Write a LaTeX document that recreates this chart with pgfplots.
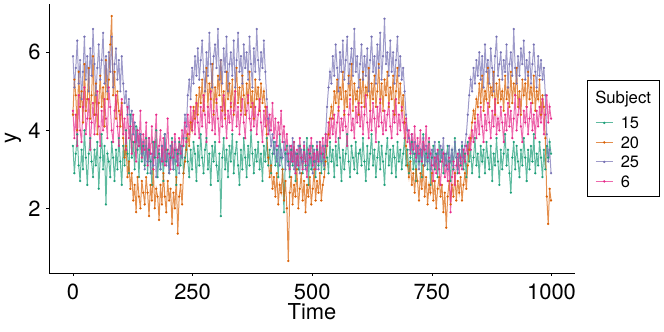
\documentclass[border=0pt]{standalone}
\usepackage{fontspec}
\setmainfont{TeX Gyre Heros}
\usepackage{pgfplots}
\usepackage{pgfplotstable}
\pgfplotsset{compat=1.18}
\definecolor{cA}{HTML}{1B9E77}
\definecolor{cB}{HTML}{D95F02}
\definecolor{cC}{HTML}{7570B3}
\definecolor{cD}{HTML}{E7298A}

\pgfplotstableread{
t s15 s20 s25 s6
0 3.6 4.4 5.9 4.5
3 2.9 5.3 5.1 3.8
6 3.4 4.9 5.6 4.4
9 3.9 4.0 6.3 3.6
12 3.1 5.5 5.2 4.9
15 2.7 4.6 5.8 4.0
18 3.5 5.0 4.8 3.7
21 3.0 4.2 5.5 4.6
24 4.0 5.7 6.4 5.1
27 3.3 4.5 5.3 3.9
30 2.6 4.8 5.9 4.3
33 3.4 5.6 5.0 4.8
36 3.8 4.3 6.1 3.5
39 3.2 4.9 5.4 4.2
42 2.8 5.9 6.6 4.7
45 3.5 4.4 5.7 3.9
48 3.1 5.2 4.9 4.4
51 3.7 3.9 5.6 5.0
54 2.5 4.7 6.2 4.1
57 3.3 5.4 5.3 3.6
60 3.9 4.6 5.8 4.5
63 3.0 5.1 6.5 4.0
66 3.6 4.1 5.2 4.8
69 2.1 5.8 5.9 4.3
72 3.4 4.8 5.0 3.8
75 3.2 5.3 6.0 5.1
78 2.8 6.2 5.5 4.6
81 3.7 6.93 6.4 4.0
84 3.3 4.9 5.1 3.7
87 2.7 5.5 5.7 4.5
90 3.5 4.3 6.1 4.9
93 3.0 5.0 5.3 4.1
96 3.8 4.5 5.8 3.6
99 3.2 4.1 5.0 4.4
102 2.6 4.7 5.9 4.8
105 3.6 3.8 5.2 3.9
108 3.1 3.3 4.7 4.3
111 4.0 3.6 5.0 3.5
114 3.4 2.8 4.4 4.6
117 2.9 3.2 4.8 3.8
120 4.4 2.5 4.1 4.1
123 3.3 2.9 4.5 3.4
126 3.7 2.2 3.9 4.4
129 3.0 2.6 4.2 3.7
132 4.1 1.9 3.7 3.2
135 3.5 2.8 4.0 4.0
138 2.8 2.3 3.6 3.6
141 3.9 2.0 3.9 4.5
144 3.2 2.7 3.4 3.3
147 3.6 2.4 3.7 3.9
150 3.1 2.1 3.0 3.5
153 3.8 2.8 3.6 4.2
156 2.9 2.4 3.2 3.1
159 3.5 1.8 3.8 3.8
162 3.2 2.6 2.9 3.4
165 2.6 2.2 3.4 4.1
168 3.7 3.0 3.1 3.0
171 3.3 2.0 3.7 3.7
174 4.0 2.5 2.8 4.4
177 2.8 2.3 3.3 3.3
180 3.4 1.7 3.5 3.6
183 3.0 2.6 3.0 4.0
186 3.6 2.1 3.6 3.2
189 2.7 2.9 3.2 3.8
192 3.9 2.3 3.9 3.1
195 3.2 1.9 3.1 3.5
198 3.5 2.7 3.4 4.3
201 2.9 2.2 2.9 3.4
204 3.3 2.5 3.6 3.0
207 3.8 1.6 3.3 3.7
210 3.0 2.4 3.0 3.3
213 3.5 2.0 3.7 3.9
216 2.6 2.8 3.2 3.5
219 3.4 1.35 3.5 3.1
222 3.7 2.3 2.9 3.8
225 3.1 2.6 3.6 3.4
228 3.6 2.1 3.3 4.0
231 2.9 2.9 3.8 3.6
234 3.3 3.2 4.4 4.2
237 3.8 3.5 4.1 3.7
240 3.2 3.9 4.9 4.4
243 2.8 3.6 5.3 3.9
246 3.5 4.2 4.8 4.6
249 3.0 4.0 5.6 4.0
252 3.7 4.6 5.2 4.5
255 3.4 4.3 5.9 3.9
258 2.7 4.9 5.4 4.7
261 3.6 4.4 6.1 4.2
264 3.1 5.1 5.3 3.8
267 3.9 4.7 5.8 4.6
270 3.3 5.3 6.3 4.1
273 2.9 4.5 5.5 4.9
276 3.5 5.0 5.0 4.4
279 3.8 5.6 6.0 3.7
282 3.0 4.6 5.4 4.6
285 3.4 5.2 6.5 4.2
288 2.6 4.8 5.7 5.0
291 3.6 5.7 5.1 4.0
294 3.2 4.4 5.9 4.5
297 3.7 5.1 6.2 3.9
300 3.1 4.7 5.6 4.8
303 2.7 5.4 6.6 4.3
306 3.4 4.9 5.3 3.7
309 1.8 5.8 5.8 4.6
312 3.3 4.5 5.2 4.1
315 3.8 5.0 6.1 4.9
318 3.0 4.3 5.5 4.4
321 3.5 5.5 6.4 3.8
324 2.8 4.8 5.0 4.5
327 3.6 5.2 5.7 4.2
330 3.2 4.6 6.0 4.7
333 3.9 5.3 5.4 4.0
336 2.9 4.4 6.3 4.5
339 3.4 5.0 5.1 5.0
342 3.7 5.6 5.8 4.1
345 3.1 4.7 6.5 4.6
348 2.6 5.1 5.5 3.9
351 3.5 4.5 5.9 4.4
354 3.0 5.4 5.2 4.8
357 3.8 4.9 6.2 4.2
360 3.3 4.4 5.6 3.8
363 2.8 5.2 6.0 4.5
366 3.6 4.7 5.3 4.9
369 3.1 5.5 6.4 4.3
372 4.0 4.6 5.7 4.0
375 3.4 5.0 5.1 4.7
378 2.9 4.3 6.1 4.1
381 3.5 5.3 5.5 4.6
384 3.2 4.8 6.6 3.9
387 3.7 5.1 5.8 4.4
390 3.0 4.5 5.3 4.8
393 3.4 5.2 6.0 4.2
396 2.7 4.7 5.6 3.7
399 3.6 5.0 6.3 4.5
402 3.2 4.6 5.5 4.1
405 3.8 3.9 4.8 4.6
408 3.1 3.3 4.3 3.9
411 3.5 2.8 4.0 4.4
414 2.9 3.1 3.6 4.0
417 3.4 2.5 3.9 4.7
420 3.7 2.8 3.4 3.8
423 3.1 2.3 3.7 4.3
426 3.5 2.9 3.2 3.6
429 2.8 2.1 3.6 4.2
432 3.9 2.6 3.1 3.9
435 3.3 2.4 3.5 4.5
438 3.0 3.0 3.3 3.7
441 1.9 2.2 3.7 4.1
444 3.4 2.7 3.0 3.5
447 3.6 2.0 3.4 3.9
450 3.2 0.65 3.1 3.4
453 2.8 2.4 3.6 3.0
456 3.5 2.8 3.2 3.6
459 3.1 2.1 3.8 3.2
462 3.7 2.6 3.0 3.7
465 2.7 2.3 3.4 2.9
468 3.4 3.0 3.1 3.5
471 3.0 2.0 3.6 3.1
474 3.6 2.5 2.9 3.8
477 3.3 2.9 3.5 3.3
480 2.9 2.2 3.2 3.0
483 3.5 2.7 3.7 3.6
486 3.1 1.9 3.0 3.2
489 3.8 2.6 3.4 2.8
492 2.6 2.3 3.1 3.5
495 3.4 2.8 3.6 3.3
498 3.0 2.1 3.3 3.8
501 3.6 2.5 2.9 3.1
504 3.2 3.0 3.5 3.4
507 2.8 2.2 3.2 3.0
510 3.5 2.7 3.7 3.6
513 3.1 2.4 3.0 3.2
516 3.7 2.9 3.4 3.7
519 2.9 2.2 3.2 3.4
522 3.4 2.6 3.6 3.8
525 3.0 2.8 3.1 3.3
528 3.6 3.2 3.9 3.9
531 3.3 3.6 4.6 3.6
534 2.9 3.9 5.1 4.2
537 3.7 4.3 5.5 3.8
540 3.2 4.6 5.2 4.3
543 3.5 4.3 5.9 3.9
546 2.8 5.0 5.4 4.4
549 3.6 4.7 6.2 3.7
552 3.1 5.3 5.6 4.2
555 3.8 4.5 5.0 4.6
558 3.3 5.1 6.0 3.8
561 2.7 4.8 5.5 4.3
564 3.5 5.5 6.3 4.0
567 3.0 4.4 5.3 4.5
570 3.4 5.0 5.8 4.1
573 3.9 4.6 6.4 3.6
576 3.2 5.4 5.2 4.4
579 2.8 4.9 5.7 4.8
582 3.6 5.7 6.1 4.0
585 3.3 4.5 5.4 4.3
588 3.0 5.2 6.6 3.8
591 3.7 4.8 5.5 4.6
594 2.9 5.0 5.9 4.2
597 3.4 4.4 5.1 4.7
600 3.5 5.3 5.7 4.1
603 3.1 4.7 6.2 4.6
606 3.8 5.5 5.3 3.9
609 3.2 4.6 5.9 4.4
612 2.7 5.1 5.4 4.9
615 3.6 4.9 6.1 4.2
618 3.0 5.6 5.0 3.8
621 3.4 4.5 5.8 4.5
624 3.9 5.2 6.4 4.0
627 3.1 4.8 5.5 4.7
630 3.5 5.4 5.9 4.3
633 2.8 4.6 5.2 3.7
636 3.3 5.0 6.2 4.6
639 3.7 5.7 5.6 4.1
642 3.0 4.7 6.5 4.8
645 3.6 5.2 5.3 4.2
648 3.2 4.5 5.9 3.9
651 2.6 5.3 6.86 4.5
654 3.4 4.9 5.7 4.0
657 3.8 5.5 6.0 4.4
660 3.1 4.6 5.4 4.7
663 3.5 5.1 6.3 4.1
666 2.9 4.8 5.5 3.8
669 3.6 5.4 6.0 4.5
672 3.3 4.4 5.2 4.2
675 2.8 5.0 5.8 4.8
678 3.7 5.6 6.4 3.9
681 3.2 4.7 5.4 4.4
684 3.5 5.2 5.9 4.0
687 3.0 4.5 5.3 4.6
690 3.4 4.9 5.6 4.2
693 3.8 4.2 5.0 3.8
696 3.1 3.6 4.4 4.3
699 3.5 3.1 4.0 3.7
702 2.9 2.8 3.8 4.0
705 3.3 3.2 3.5 3.4
708 3.7 2.6 3.9 3.9
711 3.0 2.9 3.4 3.5
714 3.4 2.4 3.7 4.1
717 2.7 3.0 3.2 3.3
720 3.6 2.7 3.6 3.8
723 3.2 2.2 3.0 3.4
726 3.5 2.9 3.5 4.0
729 2.8 2.5 3.3 3.2
732 3.9 3.1 3.8 3.7
735 3.1 2.3 3.1 3.5
738 3.4 2.8 3.6 4.1
741 3.0 2.1 3.2 3.3
744 3.7 2.6 3.4 3.8
747 2.6 2.4 3.0 3.4
750 3.3 2.9 3.5 3.1
753 3.6 2.2 3.1 2.7
756 3.0 2.7 3.7 3.3
759 3.4 2.0 3.2 2.9
762 2.8 2.5 3.4 3.5
765 3.7 2.8 3.0 3.0
768 3.2 2.3 3.6 2.6
771 3.5 2.6 3.3 3.2
774 2.9 1.9 3.8 3.4
777 3.4 2.4 3.1 2.8
780 3.1 1.5 3.4 3.1
783 3.6 2.3 3.0 2.7
786 3.2 2.7 3.6 3.3
789 2.7 2.1 3.2 1.9
792 3.5 2.6 3.5 2.8
795 3.0 2.3 3.1 3.2
798 3.8 2.9 3.7 2.6
801 3.3 2.2 3.3 3.1
804 2.9 2.7 3.0 3.4
807 3.5 2.4 3.5 2.9
810 3.1 2.8 3.2 3.3
813 3.6 2.2 3.7 3.0
816 3.0 2.6 3.3 3.5
819 3.4 2.9 3.6 3.2
822 2.8 2.5 3.9 3.6
825 3.7 3.1 4.4 3.4
828 3.2 3.5 4.9 3.8
831 3.5 3.8 5.3 3.5
834 2.9 4.2 5.0 4.0
837 3.3 4.5 5.6 3.7
840 3.8 4.3 5.2 4.2
843 3.1 4.8 5.8 3.8
846 3.4 4.6 5.4 4.4
849 2.8 5.2 6.0 3.9
852 3.6 4.7 5.3 4.6
855 3.2 5.4 5.9 4.1
858 3.5 4.5 5.1 3.7
861 2.9 5.0 6.2 4.4
864 3.7 4.8 5.5 4.0
867 3.3 5.6 5.8 4.7
870 3.0 4.6 5.2 4.2
873 3.6 5.1 6.1 3.8
876 2.7 4.9 5.6 4.5
879 3.4 5.5 5.0 4.1
882 3.1 4.4 5.9 4.8
885 3.8 5.2 6.4 3.9
888 3.2 4.7 5.4 4.3
891 2.6 5.3 5.7 4.0
894 3.5 4.8 6.0 4.6
897 3.0 5.0 5.3 4.2
900 3.4 4.5 5.8 3.7
903 3.9 5.4 5.5 4.4
906 3.1 4.8 6.2 4.0
909 3.5 5.1 5.1 4.7
912 2.9 4.6 5.7 4.1
915 2.4 5.5 6.0 4.5
918 3.3 4.7 5.4 3.8
921 3.7 5.2 6.6 4.3
924 3.0 4.9 5.6 4.9
927 3.6 5.6 5.2 4.0
930 3.2 4.6 5.9 4.4
933 2.8 5.0 5.4 4.8
936 3.5 4.4 6.1 4.1
939 3.1 5.3 5.7 3.7
942 3.8 4.9 6.3 4.5
945 3.3 5.2 5.3 4.2
948 2.7 4.6 5.8 4.6
951 3.5 5.5 5.4 3.9
954 3.0 4.8 6.0 4.3
957 3.6 5.1 5.2 4.7
960 3.2 4.7 5.7 4.0
963 3.9 5.4 6.2 4.4
966 2.9 4.5 5.5 3.8
969 3.4 5.0 5.1 4.5
972 3.1 4.8 5.9 4.1
975 3.7 5.3 5.4 4.6
978 3.3 4.4 5.8 4.2
981 2.8 4.9 5.3 4.8
984 3.5 4.6 5.6 3.9
987 3.0 3.8 4.9 4.4
990 3.6 2.3 3.9 4.9
993 3.3 1.6 3.2 4.2
996 3.7 2.5 3.5 4.6
999 3.4 2.2 2.9 4.3
}\datatable

\pgfplotsset{
  ser/.style={#1, line width=1.0bp, draw opacity=0.7, mark=*, mark size=1.1bp,
    mark options={solid, draw opacity=1, fill opacity=1, line width=0.1bp, fill=#1, draw=#1}},
}

\begin{document}
\begin{tikzpicture}
\begin{axis}[
  at={(0,0)}, anchor=south west,
  scale only axis, width=526bp, height=269bp,
  xmin=-50, xmax=1049, ymin=0.34, ymax=7.24,
  axis lines*=left,
  axis line style={black, line width=0.6bp, -},
  xtick={0,250,500,750,1000}, ytick={2,4,6},
  tick align=outside, major tick length=2.75bp,
  every tick/.style={black, line width=0.6bp},
  tick label style={font=\fontsize{22}{24}\selectfont},
  /pgf/number format/assume math mode=true,
  /pgf/number format/set thousands separator={},
  scaled x ticks=false,
  xticklabel style={inner sep=0pt, anchor=north, yshift=-8bp},
  yticklabel style={inner sep=0pt, anchor=east, xshift=-5.5bp},
  xlabel={Time}, ylabel={y},
  label style={font=\fontsize{22}{24}\selectfont},
  xlabel style={at={(axis description cs:0.5,-0.1747)}, anchor=base, inner sep=0pt},
  ylabel style={at={(axis description cs:-0.0618,0.5)}, anchor=base, inner sep=0pt},
  legend style={at={(1,0.5)}, anchor=west, xshift=12bp, draw=black, line width=0.5bp,
    fill=white, font=\fontsize{16.5}{18}\selectfont,
    inner xsep=8bp, inner ysep=9bp, row sep=7.5bp, column sep=7.5bp,
    nodes={inner sep=0pt, text height=12bp, text depth=0bp}},
  legend cell align=left,
  legend image code/.code={\draw[#1, mark repeat=2, mark phase=2] plot coordinates {(0bp,0bp) (8.5bp,0bp) (17bp,0bp)};},
]
\addlegendimage{empty legend}
\addlegendentry[text height=14.3bp, text depth=5.5bp]{\hspace{-25.5bp}\fontsize{16.8}{18}\selectfont Subject}
\addplot[ser=cA] table[x=t, y=s15] {\datatable};
\addlegendentry{15}
\addplot[ser=cB] table[x=t, y=s20] {\datatable};
\addlegendentry{20}
\addplot[ser=cC] table[x=t, y=s25] {\datatable};
\addlegendentry{25}
\addplot[ser=cD] table[x=t, y=s6] {\datatable};
\addlegendentry{6}
\end{axis}
\path[use as bounding box] (-49bp,-59bp) rectangle (615bp,273bp);
\end{tikzpicture}
\end{document}
